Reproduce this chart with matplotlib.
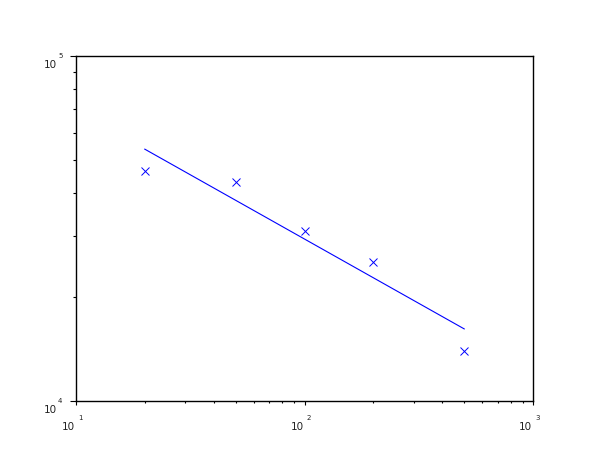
import matplotlib
matplotlib.use("Agg")
import matplotlib.pyplot as plt
import numpy as np

# measured points
x_pts = [20, 50, 100, 200, 500]
y_pts = [46500, 43150, 31050, 25350, 13960]

# fitted line (end points)
x_fit = [20, 500]
y_fit = [53700, 16180]

x_exps = [1, 2, 3]
y_exps = [4, 5]

fig = plt.figure(figsize=(6.1, 4.6), dpi=100)
ax = fig.add_axes([76/610, 1-402/460, 457/610, 345/460])

ax.plot(x_fit, y_fit, color=(0, 0, 1), lw=0.8)
ax.plot(x_pts, y_pts, ls='none', marker='x', color=(0, 0, 1), ms=6, mew=0.7)

ax.set_xscale('log')
ax.set_yscale('log')
ax.set_xlim(10, 1000)
ax.set_ylim(1e4, 1e5)

for s in ax.spines.values():
    s.set_linewidth(1.0)

ax.tick_params(axis='x', which='major', direction='out', length=2.6, width=0.8, top=False)
ax.tick_params(axis='x', which='minor', direction='out', length=1.5, width=0.8, top=False)
ax.tick_params(axis='y', which='major', direction='out', length=4.4, width=0.8, right=False)
ax.tick_params(axis='y', which='minor', direction='out', length=2.4, width=0.8, right=False)
ax.set_xticklabels([])
ax.set_yticklabels([])
ax.xaxis.set_minor_formatter(plt.NullFormatter())
ax.yaxis.set_minor_formatter(plt.NullFormatter())

# scilab style labels: "10" with a detached exponent
lab_col = '#222222'
for e in x_exps:
    ax.annotate('10', xy=(10.0**e, 0), xycoords=('data', 'axes fraction'),
                xytext=(-1, -20), textcoords='offset pixels',
                ha='right', va='top', fontsize=7.5, color=lab_col)
    ax.annotate(str(e), xy=(10.0**e, 0), xycoords=('data', 'axes fraction'),
                xytext=(2, -13), textcoords='offset pixels',
                ha='left', va='top', fontsize=5, color=lab_col)
for e in y_exps:
    ax.annotate('10', xy=(0, 10.0**e), xycoords=('axes fraction', 'data'),
                xytext=(-19, -3), textcoords='offset pixels',
                ha='right', va='top', fontsize=7.5, color=lab_col)
    ax.annotate(str(e), xy=(0, 10.0**e), xycoords=('axes fraction', 'data'),
                xytext=(-18, 4), textcoords='offset pixels',
                ha='left', va='top', fontsize=5, color=lab_col)

fig.savefig('out.png', dpi=100)
